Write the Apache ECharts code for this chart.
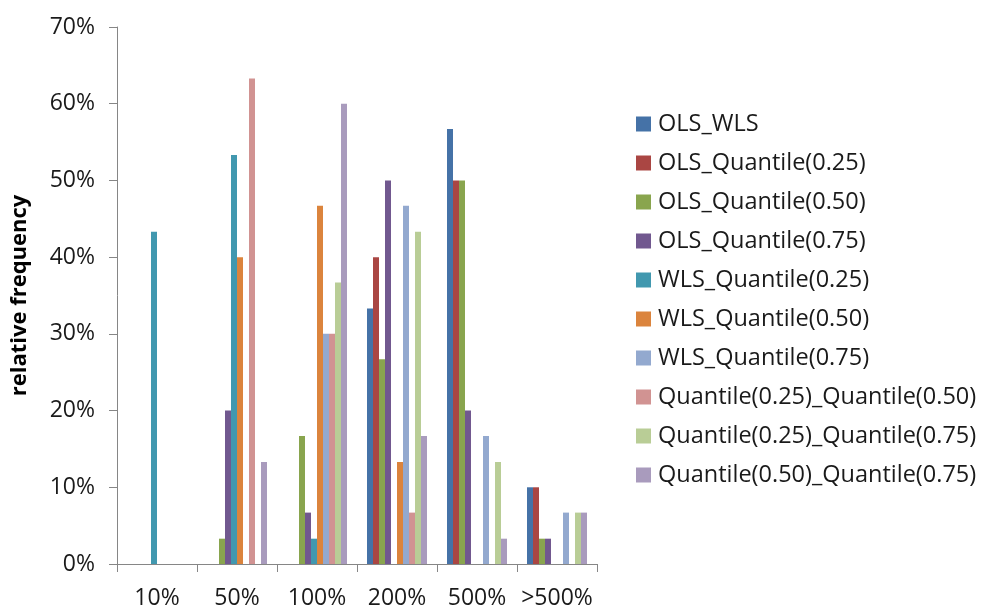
<!DOCTYPE html>
<html>
<head>
<meta charset="utf-8">
<script src="https://cdn.jsdelivr.net/npm/echarts@6/dist/echarts.min.js"></script>
<style>
  html, body { margin: 0; padding: 0; background: #fff; }
  #chart { width: 995px; height: 608px; }
</style>
</head>
<body>
<div id="chart"></div>
<script>
// Bins of relative difference
const categories = ['10%', '50%', '100%', '200%', '500%', '>500%'];

// Relative frequency (%) per bin for each pair of estimators
const olsWls          = [0, 0, 0, 33.3, 56.7, 10];
const olsQ25          = [0, 0, 0, 40, 50, 10];
const olsQ50          = [0, 3.3, 16.7, 26.7, 50, 3.3];
const olsQ75          = [0, 20, 6.7, 50, 20, 3.3];
const wlsQ25          = [43.3, 53.3, 3.3, 0, 0, 0];
const wlsQ50          = [0, 40, 46.7, 13.3, 0, 0];
const wlsQ75          = [0, 0, 30, 46.7, 16.7, 6.7];
const q25Q50          = [0, 63.3, 30, 6.7, 0, 0];
const q25Q75          = [0, 0, 36.7, 43.3, 13.3, 6.7];
const q50Q75          = [0, 13.3, 60, 16.7, 3.3, 6.7];

const seriesNames = [
  'OLS_WLS', 'OLS_Quantile(0.25)', 'OLS_Quantile(0.50)', 'OLS_Quantile(0.75)',
  'WLS_Quantile(0.25)', 'WLS_Quantile(0.50)', 'WLS_Quantile(0.75)',
  'Quantile(0.25)_Quantile(0.50)', 'Quantile(0.25)_Quantile(0.75)', 'Quantile(0.50)_Quantile(0.75)'
];
const seriesValues = [olsWls, olsQ25, olsQ50, olsQ75, wlsQ25, wlsQ50, wlsQ75, q25Q50, q25Q75, q50Q75];

const palette = ['#4572A7', '#AA4643', '#89A54E', '#71588F', '#4198AF',
                 '#DB843D', '#93A9CF', '#D19392', '#B9CD96', '#A99BBD'];

const FONT = '"Open Sans", Lato, sans-serif';
const axisGray = '#868686';

const chart = echarts.init(document.getElementById('chart'), null, { renderer: 'canvas' });

chart.setOption({
  animation: false,
  color: palette,
  textStyle: { fontFamily: FONT },
  grid: { left: 117, right: 398, top: 27, bottom: 44, containLabel: false, outerBoundsMode: 'none' },
  legend: {
    orient: 'vertical',
    left: 631,
    top: 107,
    itemWidth: 15,
    itemHeight: 15,
    itemGap: 15,
    icon: 'rect',
    textStyle: { fontFamily: FONT, fontSize: 23.5, color: '#1a1a1a', lineHeight: 23, padding: [0, 0, 0, 2] },
    data: seriesNames
  },
  xAxis: {
    type: 'category',
    data: categories,
    axisLine: { lineStyle: { color: axisGray, width: 1 } },
    axisTick: { show: true, alignWithLabel: false, length: 8, lineStyle: { color: axisGray } },
    axisLabel: { fontFamily: FONT, fontSize: 23, color: '#1a1a1a', margin: 23, interval: 0 },
    splitLine: { show: false }
  },
  yAxis: {
    type: 'value',
    min: 0,
    max: 70,
    interval: 10,
    name: 'relative frequency',
    nameLocation: 'middle',
    nameGap: 86,
    nameRotate: 90,
    nameTextStyle: { fontFamily: FONT, fontSize: 22, fontWeight: 'bold', color: '#000' },
    axisLine: { show: true, lineStyle: { color: axisGray, width: 1 } },
    axisTick: { show: true, inside: false, length: 8, lineStyle: { color: axisGray } },
    axisLabel: { fontFamily: FONT, fontSize: 23, color: '#1a1a1a', margin: 22, formatter: '{value}%' },
    splitLine: { show: false }
  },
  series: seriesNames.map((name, i) => ({
    name: name,
    type: 'bar',
    data: seriesValues[i],
    barGap: '0%',
    barCategoryGap: '25%',
    itemStyle: { color: palette[i] }
  }))
});
</script>
</body>
</html>
